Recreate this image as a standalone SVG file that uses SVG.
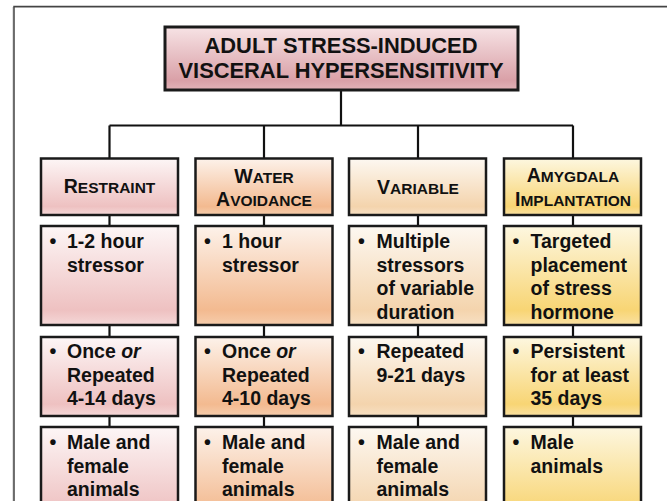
<svg xmlns="http://www.w3.org/2000/svg" width="667" height="501" viewBox="0 0 667 501">
<defs>
<linearGradient id="gTitle" x1="0" y1="0" x2="0" y2="1"><stop offset="0" stop-color="#f7e3e5"/><stop offset="0.85" stop-color="#d9a0a7"/><stop offset="1" stop-color="#e2b3b8"/></linearGradient>
<linearGradient id="gPink" x1="0" y1="0" x2="0" y2="1"><stop offset="0" stop-color="#fdf6f6"/><stop offset="0.85" stop-color="#eec1c1"/><stop offset="1" stop-color="#f5d8d8"/></linearGradient>
<linearGradient id="gPeach" x1="0" y1="0" x2="0" y2="1"><stop offset="0" stop-color="#fdf2ea"/><stop offset="0.85" stop-color="#f3ba90"/><stop offset="1" stop-color="#f6cdac"/></linearGradient>
<linearGradient id="gLight" x1="0" y1="0" x2="0" y2="1"><stop offset="0" stop-color="#fdf8f1"/><stop offset="0.85" stop-color="#f4d4ad"/><stop offset="1" stop-color="#f7e0c3"/></linearGradient>
<linearGradient id="gYellow" x1="0" y1="0" x2="0" y2="1"><stop offset="0" stop-color="#fdf7e0"/><stop offset="0.85" stop-color="#f8d574"/><stop offset="1" stop-color="#fae1a2"/></linearGradient>
</defs>
<style>
.box{stroke:#1a1a1a;stroke-width:2.5}
.tbox{stroke:#1a1a1a;stroke-width:3}
.c1{fill:url(#gPink)}.c2{fill:url(#gPeach)}.c3{fill:url(#gLight)}.c4{fill:url(#gYellow)}
text{font-family:"Liberation Sans",Arial,Helvetica,sans-serif;font-weight:bold;fill:#111}
.t{font-size:21.8px;text-anchor:middle}
.h{text-anchor:middle}
.big{font-size:19.5px}.sm{font-size:15.5px}
.b{font-size:19.5px}
.con{stroke:#111;stroke-width:2.2;fill:none}
</style>
<rect x="13" y="7.5" width="700" height="600" fill="none" stroke="#c4c4c4" stroke-width="1"/>
<rect x="14" y="6.5" width="700" height="600" fill="none" stroke="#444" stroke-width="1.5"/>

<g id="connectors">
<path class="con" d="M341 90V125.5M109.5 125.5H573M109.5 125.5V158M264 125.5V158M418 125.5V158M573 125.5V158"/>
<path class="con" d="M109.5 215V226M109.5 325V337M109.5 416V427"/>
<path class="con" d="M264 215V226M264 325V337M264 416V427"/>
<path class="con" d="M418 215V226M418 325V337M418 416V427"/>
<path class="con" d="M573 215V226M573 325V337M573 416V427"/>
</g>

<g id="title">
<rect class="tbox" x="165" y="27" width="353" height="63" fill="url(#gTitle)"/>
<text class="t" x="341" y="52.5" textLength="273" lengthAdjust="spacingAndGlyphs">ADULT STRESS-INDUCED</text>
<text class="t" x="341" y="77.5" textLength="325" lengthAdjust="spacingAndGlyphs">VISCERAL HYPERSENSITIVITY</text>
</g>

<g id="restraint-header">
<rect class="box c1" x="41" y="158.5" width="137" height="56.5"/>
<text class="h" x="109.5" y="193"><tspan class="big">R</tspan><tspan class="sm">ESTRAINT</tspan></text>
</g>
<g id="water-header">
<rect class="box c2" x="195.5" y="158.5" width="137" height="56.5"/>
<text class="h" x="264" y="182.5"><tspan class="big">W</tspan><tspan class="sm">ATER</tspan></text>
<text class="h" x="264" y="206"><tspan class="big">A</tspan><tspan class="sm">VOIDANCE</tspan></text>
</g>
<g id="variable-header">
<rect class="box c3" x="349" y="158.5" width="137" height="56.5"/>
<text class="h" x="418" y="194"><tspan class="big">V</tspan><tspan class="sm">ARIABLE</tspan></text>
</g>
<g id="amygdala-header">
<rect class="box c4" x="504" y="158.5" width="137" height="56.5"/>
<text class="h" x="573" y="182"><tspan class="big">A</tspan><tspan class="sm">MYGDALA</tspan></text>
<text class="h" x="573" y="205.5"><tspan class="big">I</tspan><tspan class="sm">MPLANTATION</tspan></text>
</g>

<g id="restraint-duration">
<rect class="box c1" x="41" y="226" width="137" height="99"/>
<text class="b" x="49.5" y="248">•</text>
<text class="b" x="67" y="248">1-2 hour</text>
<text class="b" x="67" y="271.5">stressor</text>
</g>
<g id="water-duration">
<rect class="box c2" x="195.5" y="226" width="137" height="99"/>
<text class="b" x="204" y="248">•</text>
<text class="b" x="222" y="248">1 hour</text>
<text class="b" x="222" y="271.5">stressor</text>
</g>
<g id="variable-duration">
<rect class="box c3" x="349" y="226" width="137" height="99"/>
<text class="b" x="358" y="248">•</text>
<text class="b" x="376.5" y="248">Multiple</text>
<text class="b" x="376.5" y="271.5">stressors</text>
<text class="b" x="376.5" y="295">of variable</text>
<text class="b" x="376.5" y="318.5">duration</text>
</g>
<g id="amygdala-duration">
<rect class="box c4" x="504" y="226" width="137" height="99"/>
<text class="b" x="512.5" y="248">•</text>
<text class="b" x="530.5" y="248">Targeted</text>
<text class="b" x="530.5" y="271.5">placement</text>
<text class="b" x="530.5" y="295">of stress</text>
<text class="b" x="530.5" y="318.5">hormone</text>
</g>

<g id="restraint-repeat">
<rect class="box c1" x="41" y="337" width="137" height="79"/>
<text class="b" x="49.5" y="358">•</text>
<text class="b" x="67" y="358">Once <tspan font-style="italic">or</tspan></text>
<text class="b" x="67" y="381.5">Repeated</text>
<text class="b" x="67" y="405">4-14 days</text>
</g>
<g id="water-repeat">
<rect class="box c2" x="195.5" y="337" width="137" height="79"/>
<text class="b" x="204" y="358">•</text>
<text class="b" x="222" y="358">Once <tspan font-style="italic">or</tspan></text>
<text class="b" x="222" y="381.5">Repeated</text>
<text class="b" x="222" y="405">4-10 days</text>
</g>
<g id="variable-repeat">
<rect class="box c3" x="349" y="337" width="137" height="79"/>
<text class="b" x="358" y="358">•</text>
<text class="b" x="376.5" y="358">Repeated</text>
<text class="b" x="376.5" y="381.5">9-21 days</text>
</g>
<g id="amygdala-repeat">
<rect class="box c4" x="504" y="337" width="137" height="79"/>
<text class="b" x="512.5" y="358">•</text>
<text class="b" x="530.5" y="358">Persistent</text>
<text class="b" x="530.5" y="381.5">for at least</text>
<text class="b" x="530.5" y="405">35 days</text>
</g>

<g id="restraint-sex">
<rect class="box c1" x="41" y="427" width="137" height="99"/>
<text class="b" x="49.5" y="449">•</text>
<text class="b" x="67" y="449">Male and</text>
<text class="b" x="67" y="472.5">female</text>
<text class="b" x="67" y="496">animals</text>
</g>
<g id="water-sex">
<rect class="box c2" x="195.5" y="427" width="137" height="99"/>
<text class="b" x="204" y="449">•</text>
<text class="b" x="222" y="449">Male and</text>
<text class="b" x="222" y="472.5">female</text>
<text class="b" x="222" y="496">animals</text>
</g>
<g id="variable-sex">
<rect class="box c3" x="349" y="427" width="137" height="99"/>
<text class="b" x="358" y="449">•</text>
<text class="b" x="376.5" y="449">Male and</text>
<text class="b" x="376.5" y="472.5">female</text>
<text class="b" x="376.5" y="496">animals</text>
</g>
<g id="amygdala-sex">
<rect class="box c4" x="504" y="427" width="137" height="99"/>
<text class="b" x="512.5" y="449">•</text>
<text class="b" x="530.5" y="449">Male</text>
<text class="b" x="530.5" y="472.5">animals</text>
</g>
</svg>
